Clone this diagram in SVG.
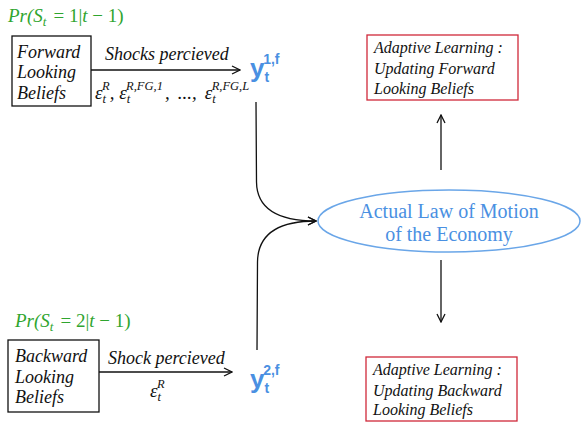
<svg xmlns="http://www.w3.org/2000/svg" width="582" height="422" viewBox="0 0 582 422">
<style>
.green{font-family:"Liberation Serif",serif;font-size:19px;font-style:italic;fill:#2fa52f}
.gup{font-style:normal}
.lbl{font-family:"Liberation Serif",serif;font-size:18px;font-style:italic;fill:#111}
.eps{font-family:"Liberation Serif",serif;font-size:19px;font-style:italic;fill:#111}
.sup{font-size:12.5px}
.y{font-family:"Liberation Sans",sans-serif;font-weight:bold;fill:#4a90e2}
.box{fill:#fff;stroke:#111;stroke-width:1.3}
.rbox{fill:#fff;stroke:#d0283a;stroke-width:1.3}
.rt{font-family:"Liberation Serif",serif;font-size:16px;font-style:italic;fill:#111}
.ell{fill:#fff;stroke:#6aa6e8;stroke-width:1.5}
.et{font-family:"Liberation Serif",serif;font-size:20px;fill:#4a90e2;text-anchor:middle}
.ln{fill:none;stroke:#111;stroke-width:1.3}
</style>
<defs>
<marker id="ah" viewBox="0 0 10 10" refX="9" refY="5" markerWidth="10" markerHeight="10" markerUnits="userSpaceOnUse" orient="auto">
<path d="M1,1 L9,5 L1,9" fill="none" stroke="#111" stroke-width="1.3"/>
</marker>
</defs>
<text class="green" x="8" y="22">Pr(S<tspan font-size="13" dy="4">t</tspan><tspan class="gup" dy="-4" dx="7">= 1|</tspan>t<tspan class="gup"> − 1)</tspan></text>
<text class="green" x="15" y="327">Pr(S<tspan font-size="13" dy="4">t</tspan><tspan class="gup" dy="-4" dx="7">= 2|</tspan>t<tspan class="gup"> − 1)</tspan></text>
<g id="connectors">
<line class="ln" x1="91" y1="70" x2="240" y2="70" marker-end="url(#ah)"/>
<line class="ln" x1="99" y1="372" x2="232" y2="372" marker-end="url(#ah)"/>
<path class="ln" d="M256,102 L256.5,182 Q257,221 316,221" marker-end="url(#ah)"/>
<path class="ln" d="M257,350 L257.5,262 Q258,221 316,221" marker-end="url(#ah)"/>
<line class="ln" x1="441" y1="170" x2="441" y2="115" marker-end="url(#ah)"/>
<line class="ln" x1="441" y1="260" x2="441" y2="322" marker-end="url(#ah)"/>
</g>
<g id="forward">
<rect class="box" x="12" y="36" width="79" height="70"/>
<text class="lbl" x="17" y="58">Forward</text>
<text class="lbl" x="17" y="78">Looking</text>
<text class="lbl" x="17" y="99">Beliefs</text>
</g>
<g id="backward">
<rect class="box" x="8" y="340" width="91" height="72"/>
<text class="lbl" x="15" y="362">Backward</text>
<text class="lbl" x="15" y="383">Looking</text>
<text class="lbl" x="15" y="403">Beliefs</text>
</g>
<g id="labels">
<text class="lbl" x="105" y="60">Shocks percieved</text>
<text class="eps" x="95" y="99">ε<tspan class="sup" dy="4">t</tspan><tspan class="sup" dx="-4" dy="-13">R</tspan><tspan dy="9">, ε</tspan><tspan class="sup" dy="4">t</tspan><tspan class="sup" dx="-4" dy="-13">R,FG,1</tspan><tspan dy="9" dx="2">,</tspan><tspan dx="8">...,</tspan><tspan dx="8">ε</tspan><tspan class="sup" dy="4">t</tspan><tspan class="sup" dx="-4" dy="-13">R,FG,L</tspan></text>
<text class="lbl" x="108" y="364">Shock percieved</text>
<text class="eps" x="150" y="397">ε<tspan class="sup" dy="4">t</tspan><tspan class="sup" dx="-4" dy="-13">R</tspan></text>
</g>
<g id="y1">
<text class="y" x="250" y="77" font-size="26">y<tspan font-size="14" dy="5">t</tspan><tspan font-size="14" dx="-6" dy="-18">1,f</tspan></text>
</g>
<g id="y2">
<text class="y" x="250" y="388" font-size="26">y<tspan font-size="14" dy="5">t</tspan><tspan font-size="14" dx="-6" dy="-18">2,f</tspan></text>
</g>
<g id="economy">
<ellipse class="ell" cx="449" cy="221" rx="131" ry="31"/>
<text class="et" x="449" y="218">Actual Law of Motion</text>
<text class="et" x="449" y="241">of the Economy</text>
</g>
<g id="update-forward">
<rect class="rbox" x="367" y="35" width="151" height="65"/>
<text class="rt" x="374" y="53">Adaptive Learning :</text>
<text class="rt" x="374" y="74">Updating Forward</text>
<text class="rt" x="374" y="94">Looking Beliefs</text>
</g>
<g id="update-backward">
<rect class="rbox" x="366" y="357" width="151" height="64"/>
<text class="rt" x="373" y="375">Adaptive Learning :</text>
<text class="rt" x="373" y="396">Updating Backward</text>
<text class="rt" x="373" y="415">Looking Beliefs</text>
</g>
</svg>
